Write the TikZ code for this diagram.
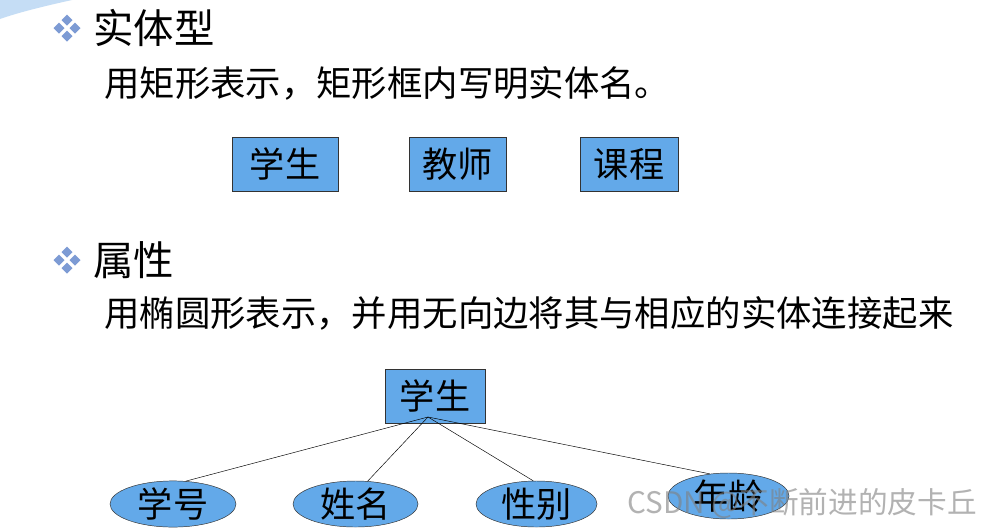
\documentclass[tikz,border=0pt]{standalone}
\usepackage{fontspec}
\setmainfont{Noto Sans CJK SC}
\usetikzlibrary{shapes.geometric}
\definecolor{boxblue}{RGB}{99,169,233}
\definecolor{bulletblue}{RGB}{125,155,212}
\definecolor{cornerblue}{RGB}{197,221,245}

\begin{document}
\begin{tikzpicture}[x=0.03cm,y=-0.03cm,
  entity/.style={draw=black!80,fill=boxblue,inner sep=0pt,minimum height=1.62cm,font=\fontsize{30}{32}\selectfont},
  attr/.style={ellipse,draw=black!80,fill=boxblue,inner sep=0pt,minimum height=1.38cm,font=\fontsize{30}{32}\selectfont},
  heading/.style={anchor=west,inner sep=0pt,font=\fontsize{34.5}{37}\selectfont},
  body/.style={anchor=west,inner sep=0pt,font=\fontsize{30.2}{32}\selectfont}]
  \useasboundingbox (0,0) rectangle (991,528);
  \fill[white] (0,0) rectangle (991,528);
  % slide corner
  \fill[cornerblue] (0,0) -- (72,0) .. controls (45,6) and (20,12) .. (0,19) -- cycle;
  % bullets
  \foreach \by in {28,260} {
    \foreach \dx/\dy in {0/-8,-8/0,8/0,0/8}
      \fill[bulletblue] (67+\dx,\by+\dy-5.5) -- (67+\dx+5.5,\by+\dy) -- (67+\dx,\by+\dy+5.5) -- (67+\dx-5.5,\by+\dy) -- cycle;
  }
  \node[heading] (t1) at (93,28) {实体型};
  \node[body] (d1) at (104,83) {用矩形表示，矩形框内写明实体名。};
  \node[entity,minimum width=3.18cm] (stu) at (285,164) {学生};
  \node[entity,minimum width=2.91cm] (tea) at (457.5,164) {教师};
  \node[entity,minimum width=2.94cm] (cou) at (629,164) {课程};
  \node[heading] (t2) at (93,260) {属性};
  \node[body] (d2) at (104,313) {用椭圆形表示，并用无向边将其与相应的实体连接起来};
  % E-R part
  \node[entity,minimum width=3.0cm] (ent) at (435,396) {学生};
  \node[attr,minimum width=3.78cm] (xh) at (173,504) {学号};
  \node[attr,minimum width=3.75cm] (xm) at (355.5,504) {姓名};
  \node[attr,minimum width=3.63cm] (xb) at (536.5,504) {性别};
  \node[attr,minimum width=3.63cm] (nl) at (728.5,496) {年龄};
  \coordinate (hub) at (428,417);
  \draw (hub) -- (xh.61);
  \draw (hub) -- (xm.62);
  \draw (hub) -- (xb.98);
  \draw (hub) -- (nl.130);
  % watermark
  \node[anchor=west,inner sep=0pt,text=gray,opacity=0.6,font=\fontsize{25.3}{27}\selectfont] (wm) at (627,504) {CSDN @不断前进的皮卡丘};
\end{tikzpicture}
\end{document}
